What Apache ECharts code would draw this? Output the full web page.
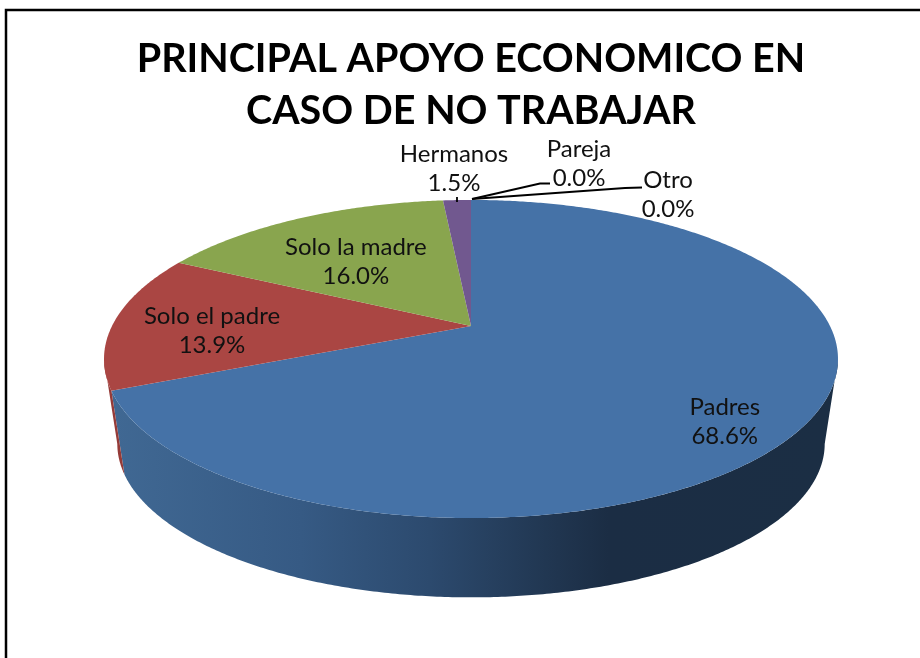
<!DOCTYPE html>
<html><head><meta charset="utf-8">
<style>html,body{margin:0;padding:0;background:#fff}#c{width:920px;height:658px}</style>
<script src="https://cdn.jsdelivr.net/npm/echarts@6/dist/echarts.min.js"></script>
</head><body><div id="c"></div>
<script>
const titleLines = ['PRINCIPAL APOYO ECONOMICO EN', 'CASO DE NO TRABAJAR'];
const categories = ['Padres', 'Solo el padre', 'Solo la madre', 'Hermanos', 'Pareja', 'Otro'];
const percentages = [68.6, 13.9, 16.0, 1.5, 0.0, 0.0];

const topColors = ['#4572A7', '#AA4643', '#89A54E', '#71588F', '#4198AF', '#DB843D'];
// label placement: r = fraction of the disc radius along the slice's mid angle, dx/dy = pixel nudge
const labelPlace = [
  {r: 0.66, dx: 40, dy: 36},
  {r: 0.72, dx: -2, dy: 9},
  {r: 0.70, dx: 11, dy: 14},
  {r: 1, dx: -3, dy: -31},
  {r: 1, dx: 108, dy: -36},
  {r: 1, dx: 197, dy: -5}
];

// perspective disc projection
const cx = 471, persp = 0.2075;
const topDisc = {y0: 326, A: 152.2, B: 359};
const baseDisc = {y0: 412, A: 146.9, B: 346};
// angles (clockwise from the back of the disc) where the wall meets the silhouette
const wallFrom = 102, wallTo = 258;
function project(d, aDeg, r) {
  const a = aDeg * Math.PI / 180, u = r * Math.sin(a), v = r * Math.cos(a), w = 1 + persp * v;
  return [cx + d.B * u / w, d.y0 - d.A * v / w];
}
function rim(d, a0, a1) {
  const pts = [], n = Math.max(2, Math.ceil(Math.abs(a1 - a0) * 2));
  for (let i = 0; i <= n; i++) pts.push(project(d, a0 + (a1 - a0) * i / n, 1));
  return pts;
}
const total = percentages.reduce((s, v) => s + v, 0);
const starts = [];
percentages.reduce((s, v, i) => (starts[i] = s, s + v), 0);

const blueSide = new echarts.graphic.LinearGradient(115, 0, 830, 0, [
  {offset: 0, color: '#406893'}, {offset: 0.26, color: '#365A84'},
  {offset: 0.44, color: '#2C4A6E'}, {offset: 0.62, color: '#20354F'},
  {offset: 0.69, color: '#1B2D44'}, {offset: 1, color: '#1B2E44'}
], true);

function sideElem(a0, a1, fill, z2) {
  return {type: 'polygon', z2, shape: {points: rim(topDisc, a0, a1).concat(rim(baseDisc, a0, a1).reverse())},
    style: {fill}};
}
function renderItem(params, api) {
  const i = params.dataIndex, v = api.value(0);
  const a0 = starts[i] / total * 360, a1 = (starts[i] + v) / total * 360, mid = (a0 + a1) / 2;
  const children = [];
  // visible wall
  const lo = Math.max(a0, wallFrom), hi = Math.min(a1, wallTo);
  if (hi > lo) children.push(sideElem(lo, hi, i === 0 ? blueSide : '#953B38', 1));
  if (v > 0) {
    children.push({type: 'polygon', z2: 2,
      shape: {points: [project(topDisc, 0, 0)].concat(rim(topDisc, a0, a1))},
      style: {fill: topColors[i]}});
  }
  const place = labelPlace[i], p = project(topDisc, mid, place.r);
  const lx = p[0] + place.dx, ly = p[1] + place.dy;
  children.push({type: 'text', z2: 5, style: {
    x: lx, y: ly, text: categories[i] + '\n' + v.toFixed(1) + '%',
    font: '24px Lato', lineHeight: 29, align: 'center', verticalAlign: 'middle', fill: '#111'}});
  return {type: 'group', children};
}

const leaderStyle = {stroke: '#000', lineWidth: 1.8, fill: 'none'};
const chart = echarts.init(document.getElementById('c'), null, {renderer: 'canvas'});
chart.setOption({
  animation: false,
  backgroundColor: '#fff',
  title: {
    text: titleLines.join('\n'), left: 466, top: 28, textAlign: 'center',
    textStyle: {fontFamily: 'Lato', fontWeight: 'bold', fontSize: 39.5, lineHeight: 52, color: '#000'}
  },
  graphic: [
    {type: 'polyline', z: 0, shape: {points: [[6, 658], [6, 10], [920, 10]]},
     style: {stroke: '#000', lineWidth: 2.5, fill: 'none'}},
    {type: 'polyline', z: 10, shape: {points: [[472, 199], [540, 183.5], [550, 183.5]]}, style: leaderStyle},
    {type: 'polyline', z: 10, shape: {points: [[472, 199], [625, 188], [642, 187.5]]}, style: leaderStyle},
    {type: 'line', z: 10, shape: {x1: 457, y1: 197, x2: 457, y2: 202}, style: leaderStyle}
  ],
  series: [{
    type: 'custom', coordinateSystem: 'none', renderItem,
    data: percentages.map((v, i) => ({name: categories[i], value: [v]}))
  }]
});
</script></body></html>
